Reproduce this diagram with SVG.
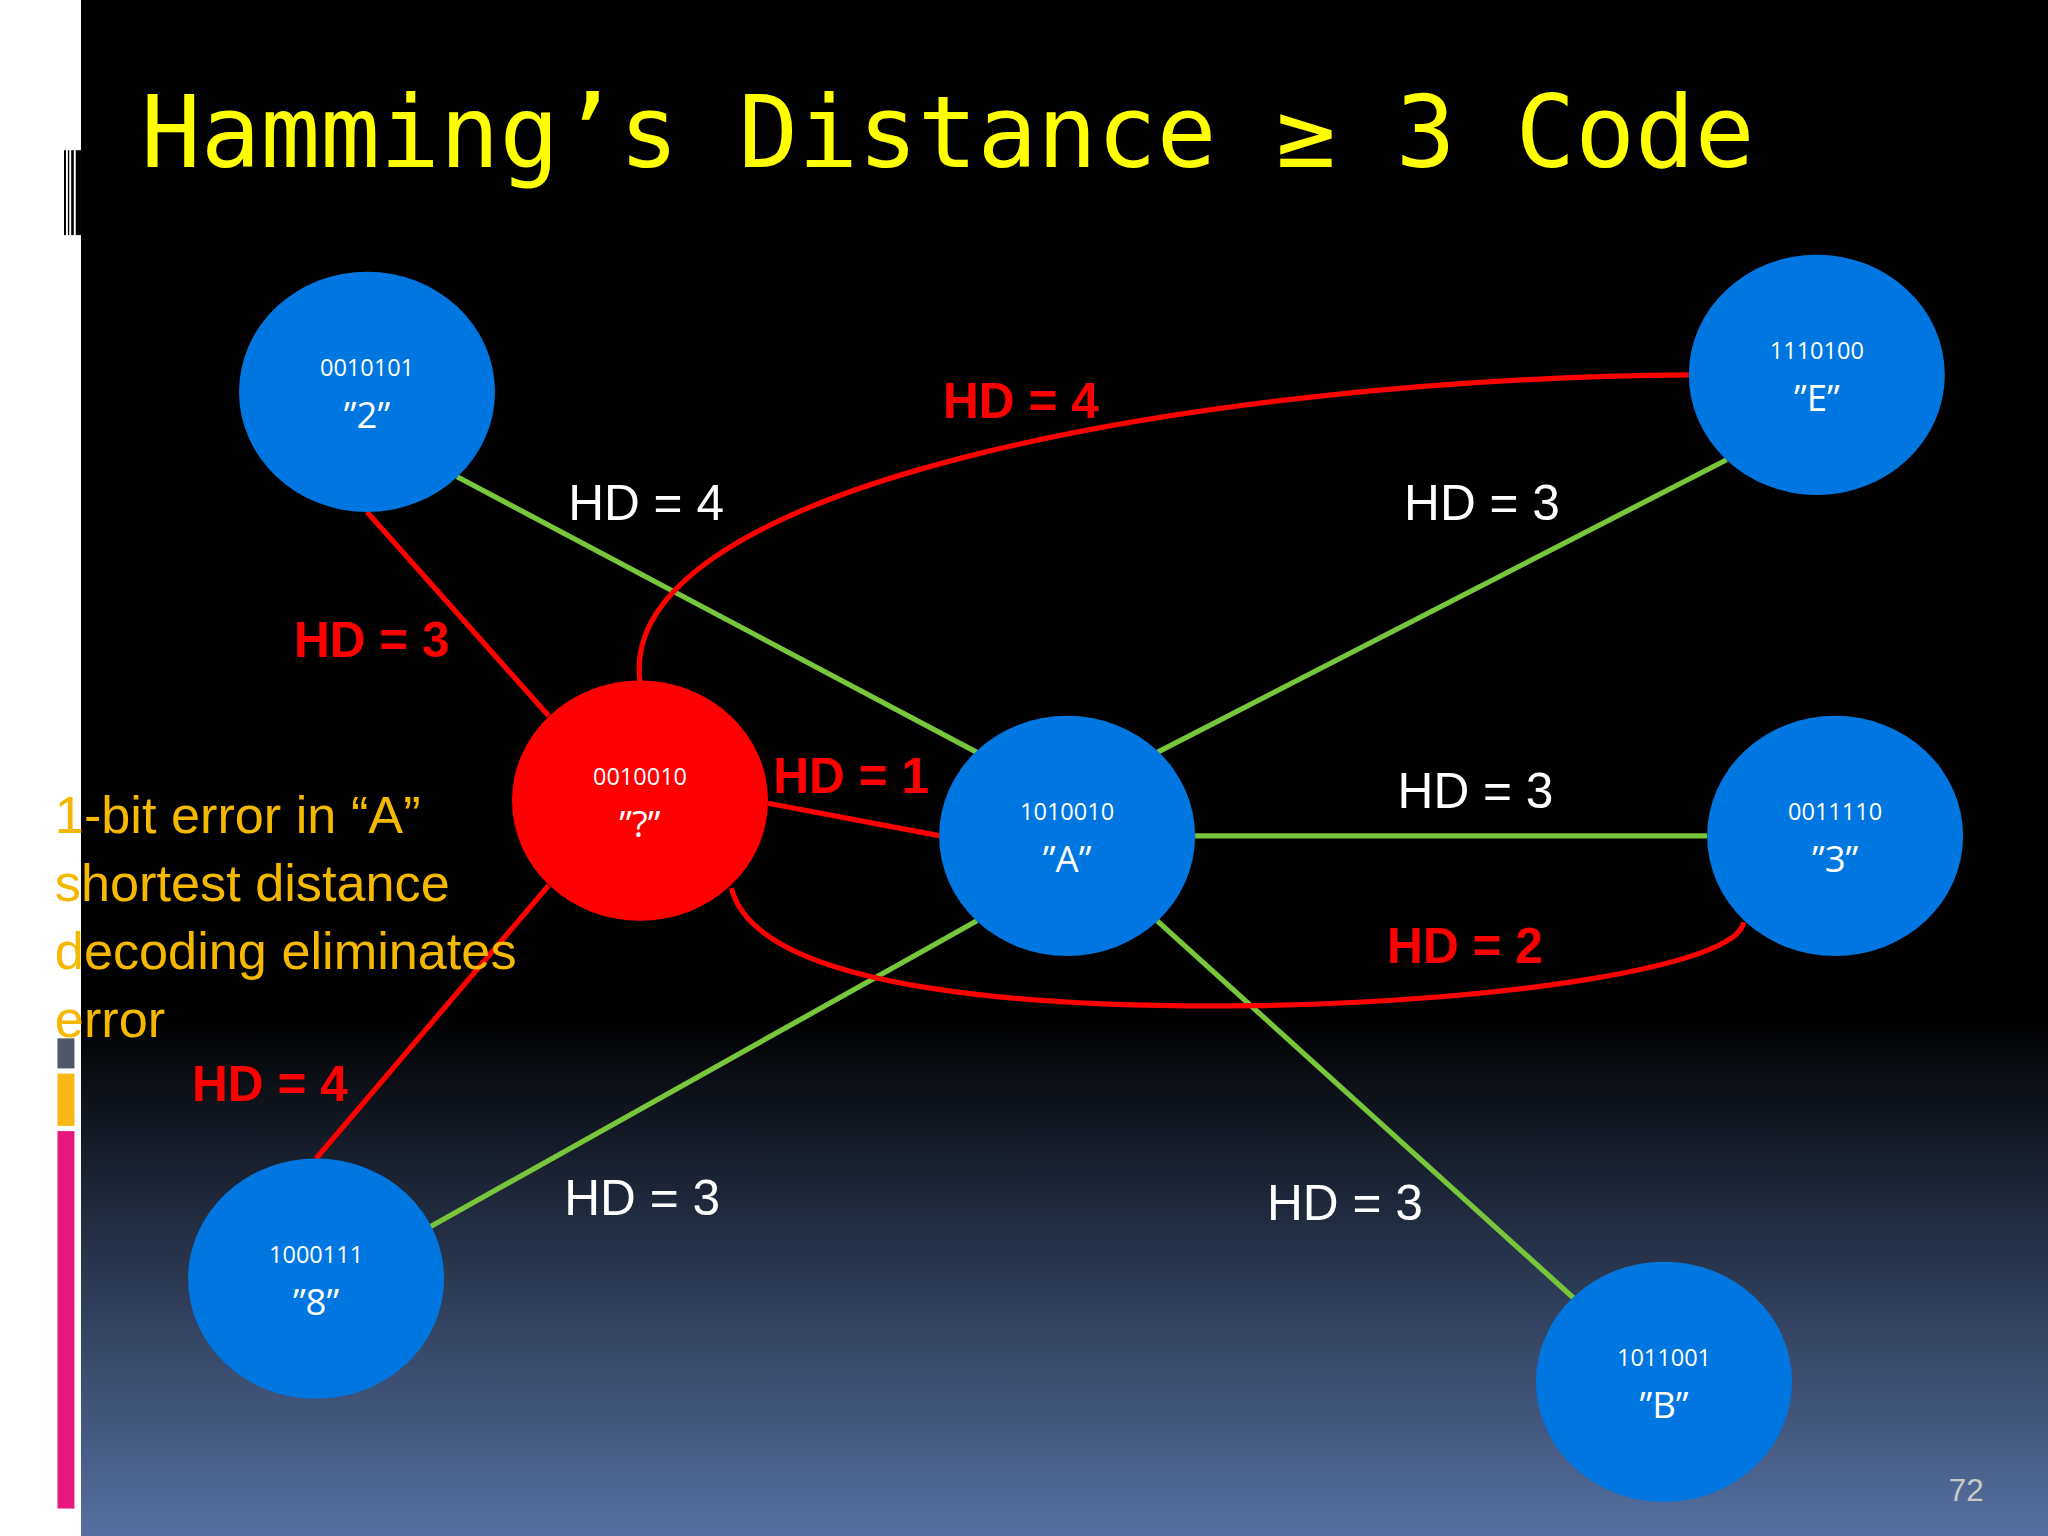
<svg xmlns="http://www.w3.org/2000/svg" width="2048" height="1536" viewBox="0 0 2048 1536">
<defs>
<linearGradient id="bg" x1="0" y1="0" x2="0" y2="1">
<stop offset="0" stop-color="#000"/><stop offset="0.66" stop-color="#000"/><stop offset="1" stop-color="#5670a2"/>
</linearGradient>
<style>
.n{fill:#0077e0}
.r{fill:#ff0000}
.bin{font-family:"Open Sans",sans-serif;font-size:18px;fill:#fff;text-anchor:middle}
.q{font-family:"Open Sans",sans-serif;font-size:28px;fill:#fff;text-anchor:middle}
.g{stroke:#77c63c;stroke-width:4;fill:none}
.rl{stroke:#ff0000;stroke-width:4;fill:none}
.w{font-family:"Liberation Sans",Arial,sans-serif;font-size:38px;fill:#fff}
.rd{font-family:"Liberation Sans",Arial,sans-serif;font-size:38px;fill:#ff0000;font-weight:bold}
.o{font-family:"Liberation Sans",Arial,sans-serif;font-size:40px;fill:#f5b800}
</style>
</defs>
<g transform="scale(1.30612)">
<rect x="0" y="0" width="1568" height="1176" fill="#fff"/>
<rect x="62" y="0" width="1506" height="1176" fill="url(#bg)"/>
<g fill="#000">
<rect x="49" y="115" width="1.5" height="65"/><rect x="52" y="115" width="1" height="65"/><rect x="54.5" y="115" width="2" height="65"/><rect x="58" y="115" width="4" height="65"/>
</g>
<rect x="44" y="795" width="13" height="23" fill="#505868"/>
<rect x="44" y="822" width="13" height="40" fill="#fbb714"/>
<rect x="44" y="866" width="13" height="289" fill="#e8197e"/>
<text x="108" y="128" font-family="DejaVu Sans Mono,Liberation Mono,monospace" font-size="76" fill="#ffff00">Hamming’s Distance ≥ 3 Code</text>
<g id="connectors">
<line class="g" x1="350" y1="365" x2="748" y2="576"/>
<line class="g" x1="1322" y1="352" x2="886" y2="576"/>
<line class="g" x1="915" y1="640" x2="1307" y2="640"/>
<line class="g" x1="748" y1="705" x2="328" y2="940"/>
<line class="g" x1="886" y1="705" x2="1205" y2="994"/>
<line class="rl" x1="281" y1="392" x2="420" y2="548"/>
<line class="rl" x1="588" y1="615" x2="720" y2="640"/>
<line class="rl" x1="420" y1="678" x2="242" y2="887"/>
<path class="rl" d="M490,522 C470,370 920,290 1293,287"/>
<path class="rl" d="M560,680 C580,760 800,772 960,770 C1150,767 1330,740 1335,706"/>
</g>
<g id="n2"><ellipse class="n" cx="281" cy="300" rx="98" ry="92"/><text class="bin" x="281" y="288">0010101</text><text class="q" x="281" y="328">”2”</text></g>
<g id="nE"><ellipse class="n" cx="1391" cy="287" rx="98" ry="92"/><text class="bin" x="1391" y="275">1110100</text><text class="q" x="1391" y="315">”E”</text></g>
<g id="nQ"><ellipse class="r" cx="490" cy="613" rx="98" ry="92"/><text class="bin" x="490" y="601">0010010</text><text class="q" x="490" y="641">”?”</text></g>
<g id="nA"><ellipse class="n" cx="817" cy="640" rx="98" ry="92"/><text class="bin" x="817" y="628">1010010</text><text class="q" x="817" y="668">”A”</text></g>
<g id="n3"><ellipse class="n" cx="1405" cy="640" rx="98" ry="92"/><text class="bin" x="1405" y="628">0011110</text><text class="q" x="1405" y="668">”3”</text></g>
<g id="n8"><ellipse class="n" cx="242" cy="979" rx="98" ry="92"/><text class="bin" x="242" y="967">1000111</text><text class="q" x="242" y="1007">”8”</text></g>
<g id="nB"><ellipse class="n" cx="1274" cy="1058" rx="98" ry="92"/><text class="bin" x="1274" y="1046">1011001</text><text class="q" x="1274" y="1086">”B”</text></g>
<g id="labels">
<text class="rd" x="722" y="320">HD = 4</text>
<text class="w" x="435" y="398">HD = 4</text>
<text class="w" x="1075" y="398">HD = 3</text>
<text class="rd" x="225" y="503">HD = 3</text>
<text class="rd" x="592" y="607">HD = 1</text>
<text class="w" x="1070" y="619">HD = 3</text>
<text class="rd" x="1062" y="737">HD = 2</text>
<text class="rd" x="147" y="843">HD = 4</text>
<text class="w" x="432" y="930">HD = 3</text>
<text class="w" x="970" y="934">HD = 3</text>
</g>
<text class="o" x="42" y="638">1-bit error in “A”</text>
<text class="o" x="42" y="690">shortest distance</text>
<text class="o" x="42" y="742">decoding eliminates</text>
<text class="o" x="42" y="794">error</text>
<text x="1492" y="1149" font-family="Liberation Sans,Arial,sans-serif" font-size="24" fill="#c8c8c8">72</text>
</g>
</svg>
